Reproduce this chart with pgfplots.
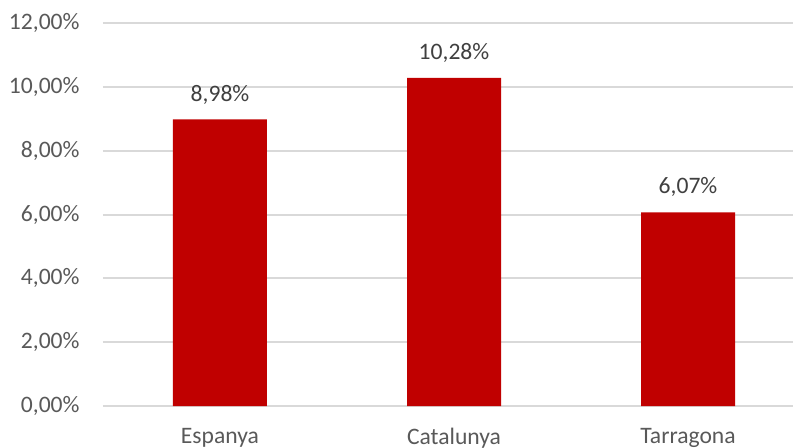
\documentclass[border=0pt]{standalone}
\usepackage{pgfplots}
\pgfplotsset{compat=1.18}
\usepackage{fontspec}
\setmainfont{Carlito}
\definecolor{barred}{HTML}{C00000}
\definecolor{gridc}{HTML}{D9D9D9}
\definecolor{tickc}{HTML}{595959}
\definecolor{labc}{HTML}{404040}
\begin{document}
\fontsize{11.8}{14}\selectfont
\begin{tikzpicture}
\begin{axis}[
  at={(51.5pt,20.5pt)}, anchor=south west,
  scale only axis,
  width=351pt, height=191.5pt,
  xmin=-0.5, xmax=2.5,
  ymin=0, ymax=12,
  axis line style={draw=none},
  ytick={0,2,4,6,8,10,12},
  xtick={0,1,2},
  xticklabels={Espanya,Catalunya,Tarragona},
  /pgf/number format/assume math mode=true,
  yticklabel={\pgfmathprintnumber[fixed,fixed zerofill,precision=2,use comma]{\tick}\%},
  yticklabel style={text=tickc, anchor=east, xshift=-7.6pt},
  xticklabel style={text=tickc, anchor=north, yshift=-7pt},
  tick style={draw=none},
  clip=false,
]
\foreach \yy in {0,2,4,6,8,10,12}{
  \edef\tmp{\noexpand\draw[gridc, line width=1pt] (axis cs:-0.5,\yy) -- (axis cs:2.5,\yy);}
  \tmp
}
\addplot[ybar, bar width=47pt, fill=barred, draw=none,
  nodes near coords={\pgfmathprintnumber[fixed,fixed zerofill,precision=2,use comma]{\pgfplotspointmeta}\%},
  nodes near coords style={text=labc, anchor=south, yshift=3.5pt}]
  coordinates {(0,8.98) (1,10.28) (2,6.07)};
\end{axis}
\pgfresetboundingbox
\path[use as bounding box] (0,0) rectangle (396.5pt,223.5pt);
\end{tikzpicture}
\end{document}
